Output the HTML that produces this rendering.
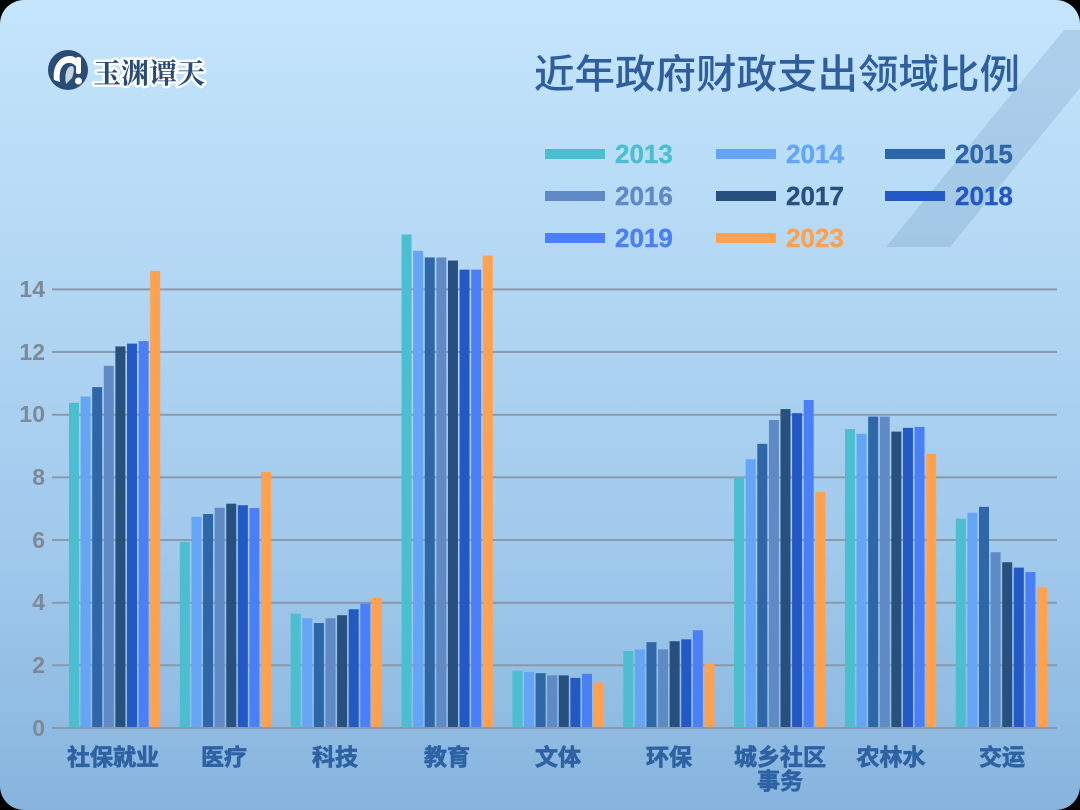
<!DOCTYPE html>
<html><head><meta charset="utf-8">
<style>
html,body{margin:0;padding:0;background:#000;}
body{width:1080px;height:810px;overflow:hidden;}
.card{position:absolute;left:0;top:0;width:1080px;height:810px;border-radius:24px;overflow:hidden;
background:linear-gradient(180deg,#c4e5fc 0%,#b5d9f5 30%,#9fc8eb 70%,#87b4de 100%);}
svg{position:absolute;left:0;top:0;}
.a{fill:#4bbfcf}.b{fill:#64a5f5}.c{fill:#2d67a8}.d{fill:#5f8ac6}.e{fill:#27507e}.f{fill:#2359c4}.g{fill:#4a7ff5}.h{fill:#ffa14e}
.tk{font-family:"Liberation Sans",sans-serif;font-weight:bold;font-size:23px;fill:#7d8996;text-anchor:end;}
.cat{font-family:"Liberation Sans","Noto Sans CJK SC",sans-serif;font-weight:bold;font-size:23px;fill:#2d62a3;stroke:#2d62a3;stroke-width:0.7;text-anchor:middle;}
.lg{font-family:"Liberation Sans",sans-serif;font-weight:bold;font-size:26px;stroke-width:0.4;}
</style></head>
<body>
<div class="card">
<svg width="1080" height="810" viewBox="0 0 1080 810" xmlns="http://www.w3.org/2000/svg">
<!-- decorative stripe -->
<polygon points="886,247 950,247 1080,88 1080,30 1064,30" fill="rgba(70,110,160,0.17)"/>

<!-- logo -->
<circle cx="68" cy="70" r="20" fill="#2a4b74"/>
<path d="M54,80 C52,66 60,56 70,56 C77,56 80,62 78,70 C76,64 70,61 65,64 C60,67 59,74 60,82 Z" fill="#ffffff"/>
<path d="M66,84 C64,74 67,66 72,66 C75,67 74,72 72,78 Z" fill="#c9d4e2"/>
<rect x="76" y="57" width="5" height="17" rx="2" fill="#ffffff"/>
<circle cx="78.5" cy="81" r="3.5" fill="#ffffff"/>
<text x="93" y="83" font-family="'Noto Serif CJK SC','WenQuanYi Zen Hei',serif" font-weight="bold" font-size="28" fill="#2a4b74" stroke="#ffffff" stroke-width="5" paint-order="stroke" stroke-linejoin="round">玉渊谭天</text>

<!-- title -->
<text x="534" y="88" textLength="486" lengthAdjust="spacingAndGlyphs" font-family="'Liberation Sans','Noto Sans CJK SC',sans-serif" font-size="40" font-weight="500" fill="#2e5f9c">近年政府财政支出领域比例</text>

<!-- legend -->
<rect x="545" y="149" width="60" height="10" class="a"/><text x="615" y="163" class="lg" fill="#4bbfcf" stroke="#4bbfcf">2013</text>
<rect x="716" y="149" width="60" height="10" class="b"/><text x="786" y="163" class="lg" fill="#64a5f5" stroke="#64a5f5">2014</text>
<rect x="885" y="149" width="60" height="10" class="c"/><text x="955" y="163" class="lg" fill="#2d67a8" stroke="#2d67a8">2015</text>
<rect x="545" y="191" width="60" height="10" class="d"/><text x="615" y="205" class="lg" fill="#5f8ac6" stroke="#5f8ac6">2016</text>
<rect x="716" y="191" width="60" height="10" class="e"/><text x="786" y="205" class="lg" fill="#27507e" stroke="#27507e">2017</text>
<rect x="885" y="191" width="60" height="10" class="f"/><text x="955" y="205" class="lg" fill="#2359c4" stroke="#2359c4">2018</text>
<rect x="545" y="233" width="60" height="10" class="g"/><text x="615" y="247" class="lg" fill="#4a7ff5" stroke="#4a7ff5">2019</text>
<rect x="716" y="233" width="60" height="10" class="h"/><text x="786" y="247" class="lg" fill="#ffa14e" stroke="#ffa14e">2023</text>

<!-- gridlines -->
<g stroke="#8b9aab" stroke-width="2">
<line x1="52" y1="289.4" x2="1057" y2="289.4"/>
<line x1="52" y1="352" x2="1057" y2="352"/>
<line x1="52" y1="414.7" x2="1057" y2="414.7"/>
<line x1="52" y1="477.4" x2="1057" y2="477.4"/>
<line x1="52" y1="540" x2="1057" y2="540"/>
<line x1="52" y1="602.7" x2="1057" y2="602.7"/>
<line x1="52" y1="665.3" x2="1057" y2="665.3"/>
</g>

<!-- tick labels -->
<text x="45" y="297" class="tk">14</text>
<text x="45" y="360" class="tk">12</text>
<text x="45" y="422" class="tk">10</text>
<text x="45" y="485" class="tk">8</text>
<text x="45" y="548" class="tk">6</text>
<text x="45" y="610" class="tk">4</text>
<text x="45" y="673" class="tk">2</text>
<text x="45" y="736" class="tk">0</text>

<!-- bars -->
<g transform="translate(0,728) scale(1,-31.33)">
<g transform="translate(69,0)">
<rect x="0" width="10" height="10.38" class="a"/><rect x="11.6" width="10" height="10.58" class="b"/><rect x="23.2" width="10" height="10.88" class="c"/><rect x="34.8" width="10" height="11.56" class="d"/><rect x="46.4" width="10" height="12.18" class="e"/><rect x="58" width="10" height="12.27" class="f"/><rect x="69.6" width="10" height="12.35" class="g"/><rect x="81.2" width="10" height="14.59" class="h"/>
</g>
<g transform="translate(179.85,0)">
<rect x="0" width="10" height="5.94" class="a"/><rect x="11.6" width="10" height="6.74" class="b"/><rect x="23.2" width="10" height="6.83" class="c"/><rect x="34.8" width="10" height="7.03" class="d"/><rect x="46.4" width="10" height="7.16" class="e"/><rect x="58" width="10" height="7.11" class="f"/><rect x="69.6" width="10" height="7.02" class="g"/><rect x="81.2" width="10" height="8.17" class="h"/>
</g>
<g transform="translate(290.7,0)">
<rect x="0" width="10" height="3.65" class="a"/><rect x="11.6" width="10" height="3.50" class="b"/><rect x="23.2" width="10" height="3.35" class="c"/><rect x="34.8" width="10" height="3.50" class="d"/><rect x="46.4" width="10" height="3.60" class="e"/><rect x="58" width="10" height="3.79" class="f"/><rect x="69.6" width="10" height="3.97" class="g"/><rect x="81.2" width="10" height="4.15" class="h"/>
</g>
<g transform="translate(401.55,0)">
<rect x="0" width="10" height="15.75" class="a"/><rect x="11.6" width="10" height="15.23" class="b"/><rect x="23.2" width="10" height="15.02" class="c"/><rect x="34.8" width="10" height="15.02" class="d"/><rect x="46.4" width="10" height="14.92" class="e"/><rect x="58" width="10" height="14.63" class="f"/><rect x="69.6" width="10" height="14.63" class="g"/><rect x="81.2" width="10" height="15.08" class="h"/>
</g>
<g transform="translate(512.4,0)">
<rect x="0" width="10" height="1.83" class="a"/><rect x="11.6" width="10" height="1.79" class="b"/><rect x="23.2" width="10" height="1.75" class="c"/><rect x="34.8" width="10" height="1.68" class="d"/><rect x="46.4" width="10" height="1.68" class="e"/><rect x="58" width="10" height="1.60" class="f"/><rect x="69.6" width="10" height="1.73" class="g"/><rect x="81.2" width="10" height="1.45" class="h"/>
</g>
<g transform="translate(623.25,0)">
<rect x="0" width="10" height="2.46" class="a"/><rect x="11.6" width="10" height="2.51" class="b"/><rect x="23.2" width="10" height="2.74" class="c"/><rect x="34.8" width="10" height="2.51" class="d"/><rect x="46.4" width="10" height="2.77" class="e"/><rect x="58" width="10" height="2.83" class="f"/><rect x="69.6" width="10" height="3.12" class="g"/><rect x="81.2" width="10" height="2.06" class="h"/>
</g>
<g transform="translate(734.1,0)">
<rect x="0" width="10" height="8.00" class="a"/><rect x="11.6" width="10" height="8.58" class="b"/><rect x="23.2" width="10" height="9.07" class="c"/><rect x="34.8" width="10" height="9.83" class="d"/><rect x="46.4" width="10" height="10.18" class="e"/><rect x="58" width="10" height="10.05" class="f"/><rect x="69.6" width="10" height="10.47" class="g"/><rect x="81.2" width="10" height="7.53" class="h"/>
</g>
<g transform="translate(844.95,0)">
<rect x="0" width="10" height="9.54" class="a"/><rect x="11.6" width="10" height="9.39" class="b"/><rect x="23.2" width="10" height="9.94" class="c"/><rect x="34.8" width="10" height="9.94" class="d"/><rect x="46.4" width="10" height="9.46" class="e"/><rect x="58" width="10" height="9.58" class="f"/><rect x="69.6" width="10" height="9.61" class="g"/><rect x="81.2" width="10" height="8.75" class="h"/>
</g>
<g transform="translate(955.8,0)">
<rect x="0" width="10" height="6.68" class="a"/><rect x="11.6" width="10" height="6.87" class="b"/><rect x="23.2" width="10" height="7.06" class="c"/><rect x="34.8" width="10" height="5.61" class="d"/><rect x="46.4" width="10" height="5.29" class="e"/><rect x="58" width="10" height="5.12" class="f"/><rect x="69.6" width="10" height="4.98" class="g"/><rect x="81.2" width="10" height="4.49" class="h"/>
</g>
</g>

<!-- baseline -->
<line x1="52" y1="728" x2="1057" y2="728" stroke="#8b9aab" stroke-width="2"/>

<!-- category labels -->
<text x="113" y="765" class="cat">社保就业</text>
<text x="224" y="765" class="cat">医疗</text>
<text x="335" y="765" class="cat">科技</text>
<text x="447" y="765" class="cat">教育</text>
<text x="558" y="765" class="cat">文体</text>
<text x="669" y="765" class="cat">环保</text>
<text x="780" y="765" class="cat">城乡社区</text>
<text x="780" y="789" class="cat">事务</text>
<text x="891" y="765" class="cat">农林水</text>
<text x="1002" y="765" class="cat">交运</text>
</svg>
</div>
</body></html>
